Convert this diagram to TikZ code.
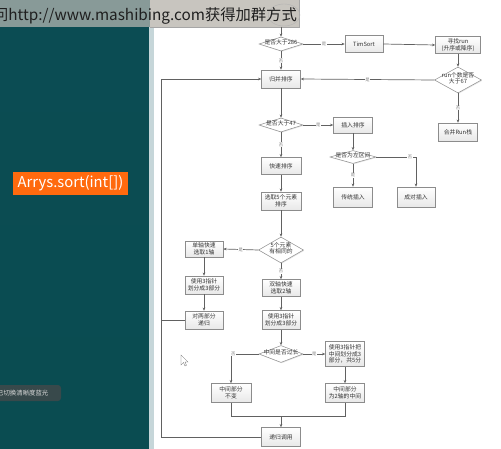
\documentclass[tikz,border=0pt]{standalone}
\usepackage{fontspec}
\setmainfont{Noto Sans CJK SC}
\usetikzlibrary{arrows.meta,shapes.geometric,shadows}
\definecolor{tealtop}{HTML}{0B4C53}
\definecolor{tealmid}{HTML}{0F6469}
\definecolor{tealbot}{HTML}{0A4C51}
\definecolor{bannerdark}{HTML}{889A98}
\definecolor{bannerlight}{HTML}{C8C5BF}
\definecolor{stripc}{HTML}{C6D6D9}
\definecolor{orangec}{HTML}{FF6A0E}
\definecolor{ovlc}{HTML}{38494B}
\newcommand{\fsz}{\fontsize{5.8}{6.6}\selectfont}
\newcommand{\dtx}[1]{\smash{\makebox[0pt]{\raisebox{-0.6pt}{\begin{tabular}{@{}c@{}}#1\end{tabular}}}}}
\tikzset{
  box/.style 2 args={draw=black!45, line width=0.5pt, top color=white, bottom color=black!9,
    minimum width=#1pt, minimum height=#2pt, inner sep=0.5pt, align=center, font=\fsz, text=black!80,
    drop shadow={opacity=0.25, shadow xshift=0.8pt, shadow yshift=-0.8pt}},
  dia/.style 2 args={diamond, draw=black!45, line width=0.5pt, fill=white, inner sep=0pt,
    minimum width=#1pt, minimum height=#2pt, font=\fsz, text=black!80,
    drop shadow={opacity=0.2, shadow xshift=0.8pt, shadow yshift=-0.8pt}},
  ln/.style={draw=black!62, line width=0.7pt},
  arr/.style={ln, -{Stealth[length=3.2pt,width=2.6pt]}},
  lab/.style={fill=white, inner sep=0.4pt, font=\fontsize{4.3}{4.3}\selectfont, text=black!50}
}
\begin{document}
\begin{tikzpicture}[x=1pt,y=-1pt]
\useasboundingbox (0,0) rectangle (501,449);
\clip (0,0) rectangle (501,449);
% backgrounds
\fill[white] (0,0) rectangle (501,449);
\shade[top color=tealtop, middle color=tealmid, bottom color=tealbot] (0,0) rectangle (149,449);
\fill[stripc] (149,27) rectangle (154,449);
\fill[bannerdark] (0,0) rectangle (150,27);
\fill[bannerlight] (150,0) rectangle (299,27);
\draw[black!35, line width=0.4pt] (150,27) -- (299,27) -- (299,0);
\draw[black!30, line width=0.4pt] (284,15) ellipse (16pt and 11pt);
\node[anchor=base east, font=\fontsize{15.3}{15.3}\selectfont, text=black!88, inner sep=0pt] (banner) at (297,20.5) {问http://www.mashibing.com获得加群方式};
% orange title
\node[fill=orangec, minimum width=115pt, minimum height=23pt, inner sep=0pt, text=white, font=\fontsize{14.8}{14.8}\selectfont] (title) at (70.5,183.5) {Arrys.sort(int[])};
% overlay at bottom left
\fill[ovlc, rounded corners=3pt] (-6,385) rectangle (61,401);
\node[anchor=west, inner sep=0pt, font=\fontsize{6.4}{6.4}\selectfont, text=black!15] (ovl) at (-3,393) {已切换清晰度蓝光};
% cursor
\draw[fill=white, draw=black!60, line width=0.3pt] (181,355) -- (181,365) -- (183.5,362.5) -- (185,366) -- (186.5,365.3) -- (185,362) -- (188,362) -- cycle;

% flowchart nodes
\node[dia={44}{14}] (d1) at (281,44) {\dtx{是否大于286}};
\node[box={38}{17}] (tim) at (364,44) {TimSort};
\node[box={45}{17}] (run) at (458,45) {寻找run\\(升序或降序)};
\node[dia={47}{26}] (d2) at (458,80) {\dtx{run个数是否\\大于67}};
\node[box={39}{18}] (merge) at (281,79) {归并排序};
\node[box={39}{18}] (stack) at (458,132) {合并Run栈};
\node[dia={44}{14}] (d3) at (281,125) {\dtx{是否大于47}};
\node[box={39}{16}] (ins) at (353,125) {插入排序};
\node[dia={46}{13}] (d4) at (353,157) {\dtx{是否为左区间}};
\node[box={39}{20}] (trad) at (353,197) {传统插入};
\node[box={38}{20}] (pair) at (416,197) {成对插入};
\node[box={40}{17}] (quick) at (281,166) {快速排序};
\node[box={40}{18}] (five) at (281,201) {选取5个元素\\排序};
\node[dia={45}{26}] (d5) at (281,250) {\dtx{5个元素\\有相同的}};
\node[box={38}{16}] (sp) at (204,249) {单轴快速\\选取1轴};
\node[box={38}{18}] (sp3) at (204,285) {使用3指针\\划分成3部分};
\node[box={38}{18}] (sprec) at (204,320) {对两部分\\递归};
\node[box={38}{17}] (dp) at (281,288) {双轴快速\\选取2轴};
\node[box={38}{19}] (dp3) at (281,320) {使用3指针\\划分成3部分};
\node[dia={44}{17}] (d6) at (281,354) {\dtx{中间是否过长}};
\node[box={39}{25}] (mid5) at (345,354) {使用3指针把\\中间划分成3\\部分，共5分};
\node[box={40}{19}] (midkeep) at (231,393) {中间部分\\不变};
\node[box={39}{19}] (mid2) at (345,393) {中间部分\\为2轴的中间};
\node[box={39}{19}] (rec) at (281,437) {递归调用};

% coordinates
\coordinate (top) at (281,27);
\coordinate (lb) at (161,437);
\coordinate (lt) at (161,79);
\coordinate (join) at (281,416);

% connectors
\draw[arr] (top) -- (d1.north);
\draw[arr] (d1.east) -- node[lab] (l1) {是} (tim.west);
\draw[arr] (tim.east) -- (run.west);
\draw[arr] (run.south) -- (d2.north);
\draw[arr] (d2.west) -- node[lab] (l2) {是} (merge.east);
\draw[arr] (d1.south) -- node[lab] (l3) {否} (merge.north);
\draw[arr] (d2.south) -- node[lab] (l4) {否} (stack.north);
\draw[arr] (merge.south) -- (d3.north);
\draw[arr] (d3.east) -- node[lab] (l5) {是} (ins.west);
\draw[arr] (d3.south) -- node[lab] (l6) {否} (quick.north);
\draw[arr] (ins.south) -- (d4.north);
\draw[arr] (d4.south) -- node[lab] (l7) {是} (trad.north);
\draw[arr] (d4.east) -- node[lab, pos=0.85] (l8) {否} (d4.east -| pair.north) -- (pair.north);
\draw[arr] (quick.south) -- (five.north);
\draw[arr] (five.south) -- (d5.north);
\draw[arr] (d5.west) -- node[lab] (l9) {是} (sp.east);
\draw[arr] (d5.south) -- node[lab] (l10) {否} (dp.north);
\draw[arr] (sp.south) -- (sp3.north);
\draw[arr] (sp3.south) -- (sprec.north);
\draw[ln] (sprec.west) -- (sprec.west -| lb);
\draw[arr] (rec.west) -- (lb) -- (lt) -- (merge.west);
\draw[arr] (dp.south) -- (dp3.north);
\draw[arr] (dp3.south) -- (d6.north);
\draw[arr] (d6.west) -- node[lab, pos=0.92] (l11) {否} (d6.west -| midkeep.north) -- (midkeep.north);
\draw[arr] (d6.east) -- node[lab] (l12) {是} (mid5.west);
\draw[arr] (mid5.south) -- (mid2.north);
\draw[ln] (midkeep.south) |- (join);
\draw[ln] (mid2.south) |- (join);
\draw[arr] (join) -- (rec.north);
\end{tikzpicture}
\end{document}
